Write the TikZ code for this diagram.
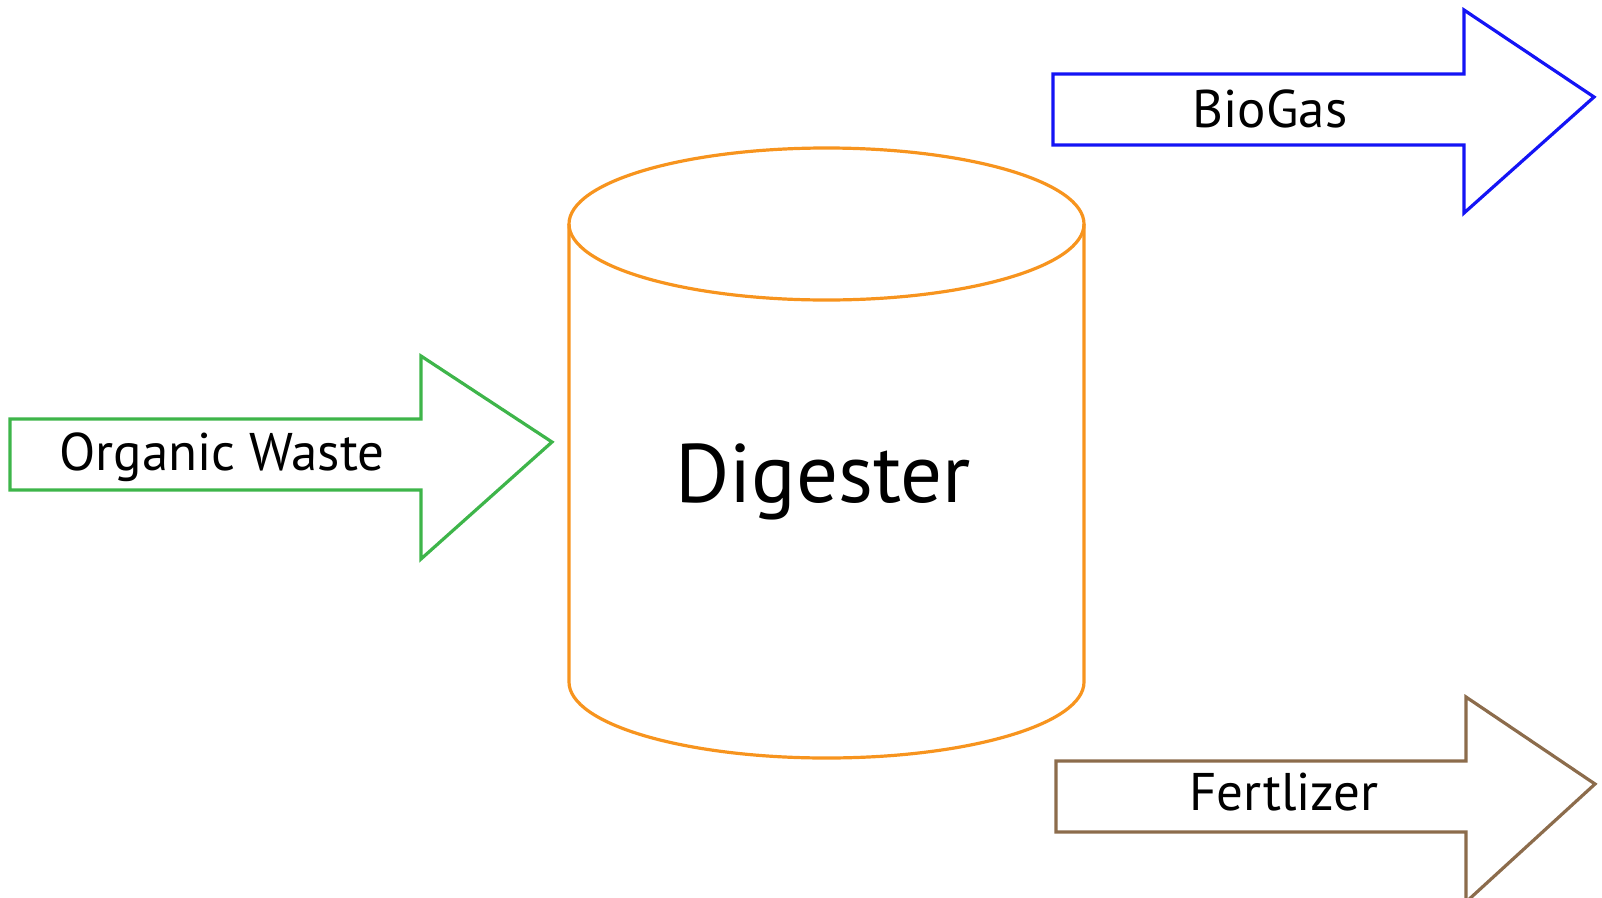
\documentclass[tikz,border=0pt]{standalone}
\usepackage{fontspec}
\setmainfont{PT Sans}
\definecolor{wastegreen}{RGB}{62,181,74}
\definecolor{gasblue}{RGB}{20,20,245}
\definecolor{tankorange}{RGB}{247,148,30}
\definecolor{fertbrown}{RGB}{140,108,76}

\begin{document}
\begin{tikzpicture}[x=1pt,y=-1pt,
    flow/.style={line width=3.2pt, line join=miter},
    label/.style={font=\fontsize{53}{60}\selectfont, inner sep=0pt, anchor=base},
    biglabel/.style={label, font=\fontsize{83}{90}\selectfont}]
  \useasboundingbox (0,0) rectangle (1602,897);

  % Digester tank
  \draw[flow,tankorange] (569,224) -- (569,682)
    arc[start angle=180, end angle=0, x radius=257.5, y radius=76] -- (1084,224);
  \draw[flow,tankorange] (826.5,224) ellipse[x radius=257.5, y radius=76];
  \node[biglabel] (digester) at (823,502) {Digester};

  % Input arrow
  \draw[flow,wastegreen] (10,419) -- (421,419) -- (421,356) -- (552,442)
    -- (421,559) -- (421,490) -- (10,490) -- cycle;
  \node[label] (waste) at (222,470) {Organic Waste};

  % Output arrows
  \draw[flow,gasblue] (1053,74) -- (1464,74) -- (1464,10) -- (1594,97)
    -- (1464,213) -- (1464,145) -- (1053,145) -- cycle;
  \node[label] (biogas) at (1270,127) {BioGas};

  \draw[flow,fertbrown] (1056,761) -- (1466,761) -- (1466,697) -- (1595,784)
    -- (1466,902) -- (1466,832) -- (1056,832) -- cycle;
  \node[label] (fertilizer) at (1284,810) {Fertlizer};
\end{tikzpicture}
\end{document}
